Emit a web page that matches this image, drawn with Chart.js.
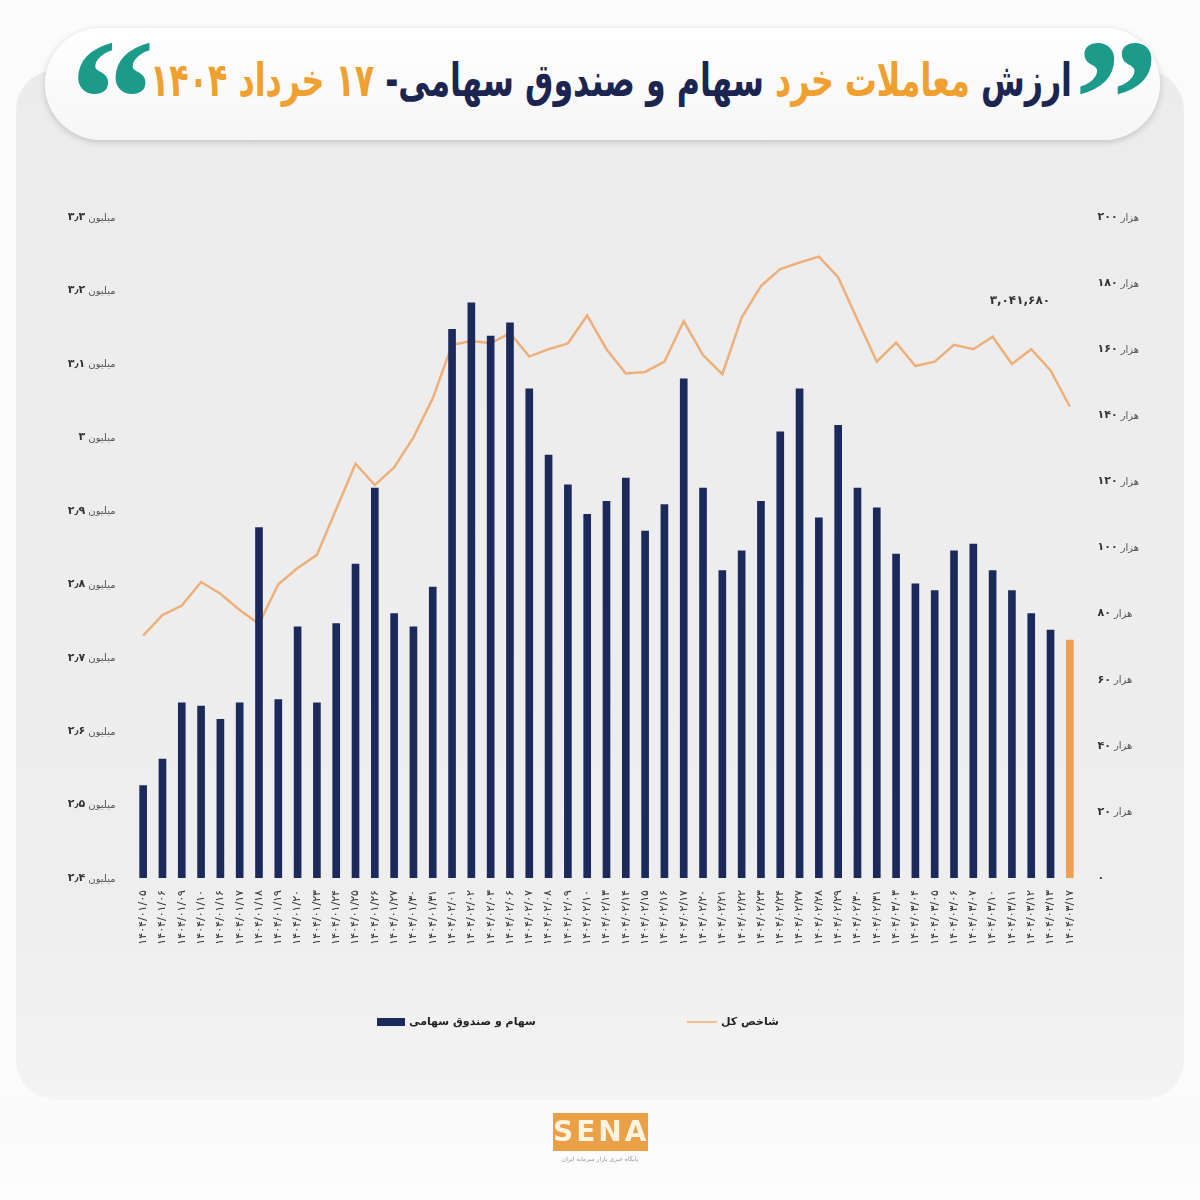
<!DOCTYPE html>
<html lang="fa">
<head>
<meta charset="utf-8">
<script src="https://cdn.jsdelivr.net/npm/chart.js@4.4.1/dist/chart.umd.min.js"></script>
<style>
  html, body { margin: 0; padding: 0; }
  body { width: 1200px; height: 1200px; position: relative; overflow: hidden; background: #fbfbfb; font-family: "DejaVu Sans", sans-serif; }
  #panel { position: absolute; left: 16px; top: 70px; width: 1168px; height: 1030px; border-radius: 40px;
           background: linear-gradient(180deg, #ececec 0%, #eeeeee 80%, #f3f3f3 100%); }
  #footer { position: absolute; left: 0; top: 1085px; width: 1200px; height: 115px;
            background: linear-gradient(180deg, rgba(250,250,250,0) 0%, #fafafa 40%, #fdfdfd 100%); }
  #header { position: absolute; left: 45px; top: 28px; width: 1115px; height: 112px; border-radius: 56px;
            background: linear-gradient(180deg, #ffffff 0%, #f6f6f6 100%); box-shadow: 0 2px 7px rgba(0,0,0,0.18); }
  #titlebox { position: absolute; left: 150px; top: 42px; width: 922px; height: 76px; overflow: visible; }
  #title { position: absolute; left: 0; top: 0; direction: rtl; white-space: nowrap; transform-origin: 0 50%;
           font-family: "DejaVu Sans", sans-serif; font-weight: bold; font-size: 46px; line-height: 76px; color: #1c2550; }
  #title .o { color: #f0a030; }
  .q { position: absolute; font-family: "Liberation Serif", serif; font-weight: bold; font-size: 170px; line-height: 170px; color: #1c9b8a; }
  #qr { left: 1074px; top: 14px; }
  #ql { left: 70px; top: 14px; }
  #chartwrap { position: absolute; left: 0; top: 0; width: 1200px; height: 1200px; direction: ltr; }
  .leg { position: absolute; top: 1013px; height: 18px; font-size: 11px; font-weight: bold; color: #222; white-space: nowrap; line-height: 18px; }
  .leg .box { display: inline-block; vertical-align: middle; width: 28px; height: 8px; background: #1b2a5a; margin-right: 4px; }
  .leg .ln { display: inline-block; vertical-align: middle; width: 30px; height: 2px; background: #f2c08e; margin-right: 4px; }
  #logo { position: absolute; left: 553px; top: 1113px; width: 95px; height: 38px; background: #e9a046; color: #fff4e0;
          font-family: "DejaVu Sans", sans-serif; font-weight: bold; font-size: 28px; line-height: 38px; text-align: center; letter-spacing: 3px; }
  #logosub { position: absolute; left: 540px; top: 1155px; width: 120px; text-align: center; font-size: 6px; color: #999; direction: rtl; }
</style>
</head>
<body>
<div id="panel"></div>
<div id="footer"></div>
<div id="header"></div>
<div class="q" id="qr">”</div>
<div class="q" id="ql">“</div>
<div id="titlebox"><div id="title">ارزش <span class="o">معاملات خرد</span> سهام و صندوق سهامی- <span class="o">۱۷ خرداد ۱۴۰۴</span></div></div>
<div id="chartwrap"><canvas id="c" dir="ltr" width="1200" height="1200"></canvas></div>
<div class="leg" style="left:377px;"><span class="box"></span>سهام و صندوق سهامی</div>
<div class="leg" style="left:687px;"><span class="ln"></span>شاخص کل</div>
<div id="logo">SENA</div>
<div id="logosub">پایگاه خبری بازار سرمایه ایران</div>
<script>
// fit the title into its box
(function () {
  const t = document.getElementById('title');
  const w = t.getBoundingClientRect().width;
  t.style.transform = 'scaleX(' + (922 / w) + ')';
})();

// ---- data ----
const dates = [
  '۱۴۰۴/۰۱/۰۵','۱۴۰۴/۰۱/۰۶','۱۴۰۴/۰۱/۰۹','۱۴۰۴/۰۱/۱۰','۱۴۰۴/۰۱/۱۶','۱۴۰۴/۰۱/۱۷','۱۴۰۴/۰۱/۱۸','۱۴۰۴/۰۱/۱۹',
  '۱۴۰۴/۰۱/۲۰','۱۴۰۴/۰۱/۲۳','۱۴۰۴/۰۱/۲۴','۱۴۰۴/۰۱/۲۵','۱۴۰۴/۰۱/۲۶','۱۴۰۴/۰۱/۲۷','۱۴۰۴/۰۱/۳۰','۱۴۰۴/۰۱/۳۱',
  '۱۴۰۴/۰۲/۰۱','۱۴۰۴/۰۲/۰۲','۱۴۰۴/۰۲/۰۳','۱۴۰۴/۰۲/۰۶','۱۴۰۴/۰۲/۰۷','۱۴۰۴/۰۲/۰۸','۱۴۰۴/۰۲/۰۹','۱۴۰۴/۰۲/۱۰',
  '۱۴۰۴/۰۲/۱۳','۱۴۰۴/۰۲/۱۴','۱۴۰۴/۰۲/۱۵','۱۴۰۴/۰۲/۱۶','۱۴۰۴/۰۲/۱۷','۱۴۰۴/۰۲/۲۰','۱۴۰۴/۰۲/۲۱','۱۴۰۴/۰۲/۲۲',
  '۱۴۰۴/۰۲/۲۳','۱۴۰۴/۰۲/۲۴','۱۴۰۴/۰۲/۲۷','۱۴۰۴/۰۲/۲۸','۱۴۰۴/۰۲/۲۹','۱۴۰۴/۰۲/۳۰','۱۴۰۴/۰۲/۳۱','۱۴۰۴/۰۳/۰۳',
  '۱۴۰۴/۰۳/۰۴','۱۴۰۴/۰۳/۰۵','۱۴۰۴/۰۳/۰۶','۱۴۰۴/۰۳/۰۷','۱۴۰۴/۰۳/۱۰','۱۴۰۴/۰۳/۱۱','۱۴۰۴/۰۳/۱۲','۱۴۰۴/۰۳/۱۳',
  '۱۴۰۴/۰۳/۱۷'
];
// retail trade value of stocks & equity funds (right axis)
const tradeValue = [
  28, 36, 53, 52, 48, 53, 106, 54, 76, 53, 77, 95,
  118, 80, 76, 88, 166, 174, 164, 168, 148, 128, 119, 110,
  114, 121, 105, 113, 151, 118, 93, 99, 114, 135, 148, 109,
  137, 118, 112, 98, 89, 87, 99, 101, 93, 87, 80, 75,
  72
];
// TEDPIX, million (left axis)
const indexValue = [
  2.730, 2.758, 2.771, 2.803, 2.787, 2.765, 2.746, 2.800, 2.822, 2.840, 2.902, 2.964,
  2.935, 2.959, 3.000, 3.053, 3.126, 3.131, 3.128, 3.142, 3.110, 3.120, 3.128, 3.166,
  3.120, 3.087, 3.089, 3.103, 3.158, 3.112, 3.086, 3.163, 3.206, 3.229, 3.238, 3.246,
  3.218, 3.160, 3.103, 3.129, 3.097, 3.103, 3.126, 3.120, 3.137, 3.100, 3.120, 3.091,
  3.042
];
const leftNums = ['۲٫۴','۲٫۵','۲٫۶','۲٫۷','۲٫۸','۲٫۹','۳','۳٫۱','۳٫۲','۳٫۳'];
const leftUnit = 'میلیون';
const rightNums = ['۰','۲۰','۴۰','۶۰','۸۰','۱۰۰','۱۲۰','۱۴۰','۱۶۰','۱۸۰','۲۰۰'];
const rightUnit = 'هزار';
const lastLabel = '۳,۰۴۱,۶۸۰';
const seriesNames = ['سهام و صندوق سهامی', 'شاخص کل'];

const numFont = 'bold 11px "DejaVu Sans"';
const unitFont = '10px "DejaVu Sans"';
const GAP = 18;
const measure = (() => { const m = document.createElement('canvas').getContext('2d'); return (txt, f) => { m.font = f; return m.measureText(txt).width; }; })();
const leftUnitW = measure(leftUnit, unitFont);

const navy = '#1b2a5a';
const orange = '#ee9f52';
const barColors = tradeValue.map((v, i) => i === tradeValue.length - 1 ? orange : navy);

// small unit words next to the axis numbers, placed at each tick of the scales
const unitPlugin = {
  id: 'units',
  afterDraw(chart) {
    const ctx = chart.ctx;
    ctx.save();
    ctx.font = unitFont;
    ctx.fillStyle = '#555';
    ctx.textBaseline = 'middle';
    const L = chart.scales.yL;
    L.ticks.forEach((t, i) => {
      ctx.textAlign = 'right';
      ctx.fillText(leftUnit, L.right - GAP, L.getPixelForTick(i) + 1);
    });
    const R = chart.scales.yR;
    R.ticks.forEach((t, i) => {
      if (i === 0) return;
      const nw = measure(rightNums[i], numFont);
      ctx.textAlign = 'left';
      ctx.fillText(rightUnit, R.left + GAP + nw + 3, R.getPixelForTick(i) + 1);
    });
    // last value of the index
    const meta = chart.getDatasetMeta(1);
    const pt = meta.data[meta.data.length - 1];
    ctx.font = 'bold 12px "DejaVu Sans"';
    ctx.fillStyle = '#333';
    ctx.textAlign = 'center';
    ctx.fillText(lastLabel, pt.x - 50, pt.y - 106);
    ctx.restore();
  }
};

new Chart(document.getElementById('c'), {
  data: {
    labels: dates,
    datasets: [
      { type: 'bar', label: seriesNames[0], data: tradeValue, yAxisID: 'yR', backgroundColor: barColors,
        barThickness: 7, order: 1 },
      { type: 'line', label: seriesNames[1], data: indexValue, yAxisID: 'yL', borderColor: '#eeb07a',
        borderWidth: 2.5, pointRadius: 0, tension: 0, order: 2 }
    ]
  },
  options: {
    responsive: false,
    animation: false,
    devicePixelRatio: 1,
    layout: { padding: { top: 217, bottom: 222, left: 0, right: 0 } },
    plugins: { legend: { display: false }, tooltip: { enabled: false } },
    scales: {
      x: {
        offset: true,
        grid: { display: false, drawTicks: false },
        border: { display: false },
        ticks: { autoSkip: false, maxRotation: 90, minRotation: 90, padding: 12, color: '#333',
                 font: { family: 'DejaVu Sans', size: 11 } },
        afterFit(s) { s.height = 100; }
      },
      yL: {
        position: 'left', min: 2.4, max: 3.3,
        grid: { display: false, drawTicks: false },
        border: { display: false },
        ticks: { stepSize: 0.1, padding: GAP + leftUnitW + 3, color: '#333', font: { family: 'DejaVu Sans', size: 11, weight: 'bold' },
                 callback: (v, i) => leftNums[i] },
        afterFit(s) { s.width = 133.5; }
      },
      yR: {
        position: 'right', min: 0, max: 200,
        grid: { display: false, drawTicks: false },
        border: { display: false },
        ticks: { stepSize: 20, padding: GAP, color: '#333', font: { family: 'DejaVu Sans', size: 11, weight: 'bold' },
                 callback: (v, i) => rightNums[i] },
        afterFit(s) { s.width = 120.5; }
      }
    }
  },
  plugins: [unitPlugin]
});
</script>
</body>
</html>
